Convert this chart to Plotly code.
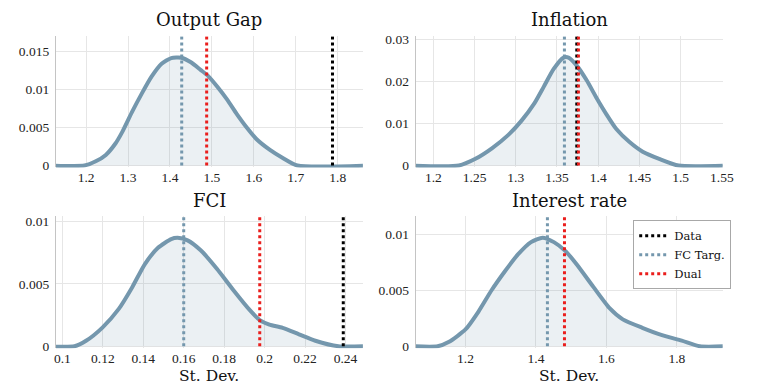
import plotly.graph_objects as go

# ---------------- data ----------------
og_x = [1.12, 1.196, 1.223, 1.247, 1.270, 1.286, 1.309, 1.333, 1.356, 1.380, 1.403, 1.427, 1.450,
        1.473, 1.489, 1.5125, 1.536, 1.559, 1.583, 1.606, 1.6375, 1.669, 1.704, 1.87]
og_y = [0, 0, 0.00056, 0.0014, 0.0029, 0.0044, 0.0070, 0.0095, 0.0117, 0.0134, 0.01415, 0.0142, 0.0136,
        0.0126, 0.0119, 0.0104, 0.0087, 0.0068, 0.0050, 0.0035, 0.0021, 0.0010, 0, 0]

inf_x = [1.17, 1.231, 1.251, 1.271, 1.291, 1.307, 1.3225, 1.334, 1.346, 1.358, 1.364, 1.374, 1.386,
         1.398, 1.410, 1.422, 1.438, 1.454, 1.474, 1.4975, 1.56]
inf_y = [0, 0, 0.0016, 0.0041, 0.0073, 0.0107, 0.0148, 0.0188, 0.0230, 0.0257, 0.0257, 0.0238, 0.0203,
         0.0161, 0.0122, 0.0087, 0.0056, 0.0033, 0.0016, 0, 0]

fci_x = [0.09, 0.106, 0.1117, 0.1198, 0.1279, 0.1344, 0.1408, 0.1473, 0.1538, 0.157, 0.1619, 0.1684,
         0.1765, 0.1846, 0.1927, 0.1976, 0.2024, 0.2089, 0.217, 0.2251, 0.2365, 0.25]
fci_y = [0, 0, 0.00044, 0.0015, 0.0030, 0.0047, 0.0066, 0.0079, 0.0086, 0.0087, 0.0085, 0.0077,
         0.0062, 0.0045, 0.0029, 0.0021, 0.00174, 0.00148, 0.00096, 0.00044, 0, 0]

ir_x = [1.05, 1.121, 1.1535, 1.2, 1.237, 1.274, 1.312, 1.349, 1.386, 1.419, 1.451, 1.484, 1.516,
        1.563, 1.609, 1.6465, 1.702, 1.758, 1.814, 1.865, 1.94]
ir_y = [0, 0, 0.0004, 0.0015, 0.0031, 0.0050, 0.0067, 0.0082, 0.0093, 0.0097, 0.0093, 0.0085, 0.0073,
        0.0053, 0.0034, 0.0024, 0.00165, 0.00099, 0.0005, 0, 0]

panel_titles = ["Output Gap", "Inflation", "FCI", "Interest rate"]
series_names = ["Data", "FC Targ.", "Dual"]
# vertical reference values per panel: Data, FC Targ., Dual (None = not shown)
og_refs = [1.7875, 1.428, 1.4875]
inf_refs = [1.374, 1.359, 1.376]
fci_refs = [0.2389, 0.160, 0.1976]
ir_refs = [None, 1.4326, 1.481]

x_ranges = [[1.128, 1.860], [1.1785, 1.551], [0.0968, 0.2486], [1.0586, 1.930]]
y_ranges = [[-0.000256, 0.01701], [-0.00046, 0.03077], [-0.000156, 0.01047], [-0.000174, 0.01165]]
x_dticks = [0.1, 0.05, 0.02, 0.2]
y_dticks = [0.005, 0.01, 0.005, 0.005]
x_label = "St. Dev."

# ---------------- styling ----------------
OFF_X, OFF_Y = 0, 8          # page offset of the plot div
W, H = 763, 388 - OFF_Y
curve_col = "rgb(116,151,173)"
fill_col = "rgba(116,151,173,0.14)"
ref_cols = ["black", "rgb(116,151,173)", "rgb(234,30,28)"]
tick_font = dict(family="Liberation Serif", size=13.5, color="#222")
title_font = dict(family="DejaVu Serif", size=18, color="#111")


def px_x(p):
    return (p - OFF_X) / W


def px_y(p):
    return 1 - (p - OFF_Y) / H


x_domains = [[px_x(46.7), px_x(359)], [px_x(412.7), px_x(725)],
             [px_x(46.7), px_x(359)], [px_x(412.7), px_x(725)]]
y_domains = [[px_y(167.7), px_y(33)], [px_y(167.7), px_y(33)],
             [px_y(353.3), px_y(217.3)], [px_y(353.3), px_y(217.3)]]

fig = go.Figure()

curves = [(og_x, og_y), (inf_x, inf_y), (fci_x, fci_y), (ir_x, ir_y)]
refs = [og_refs, inf_refs, fci_refs, ir_refs]

for i, (cx, cy) in enumerate(curves):
    xa = "x" if i == 0 else f"x{i+1}"
    ya = "y" if i == 0 else f"y{i+1}"
    fig.add_trace(go.Scatter(x=cx, y=cy, xaxis=xa, yaxis=ya, mode="lines",
                             line=dict(color=curve_col, width=4, shape="spline", smoothing=0.6),
                             fill="tozeroy", fillcolor=fill_col, showlegend=False,
                             hoverinfo="skip"))

for i in range(4):
    xa = "x" if i == 0 else f"x{i+1}"
    ya = "y" if i == 0 else f"y{i+1}"
    top = y_ranges[i][1]
    for j, v in enumerate(refs[i]):
        if v is None:
            continue
        fig.add_trace(go.Scatter(x=[v, v], y=[0, top], xaxis=xa, yaxis=ya, mode="lines",
                                 line=dict(color=ref_cols[j], width=3, dash="dot"),
                                 name=series_names[j], showlegend=(i == 0),
                                 hoverinfo="skip"))

layout = dict(
    width=W, height=H,
    margin=dict(l=0, r=0, t=0, b=0),
    paper_bgcolor="white", plot_bgcolor="white",
    font=tick_font,
    legend=dict(x=px_x(634), y=px_y(222), xanchor="left", yanchor="top",
                bgcolor="white", bordercolor="#A8A8A8", borderwidth=1,
                font=dict(family="DejaVu Serif", size=11.5, color="#111"),
                tracegroupgap=0, itemwidth=30),
)

for i in range(4):
    sx = "" if i == 0 else str(i + 1)
    layout["xaxis" + sx] = dict(
        domain=x_domains[i], anchor="y" + sx, range=x_ranges[i], dtick=x_dticks[i],
        tick0=0, showgrid=True, gridcolor="#E6E6E6", gridwidth=1, zeroline=False,
        showline=False, ticks="", tickfont=tick_font)
    layout["yaxis" + sx] = dict(
        domain=y_domains[i], anchor="x" + sx, range=y_ranges[i], dtick=y_dticks[i],
        tick0=0, showgrid=True, gridcolor="#E6E6E6", gridwidth=1, zeroline=False,
        showline=True, linecolor="#C4C4C4", linewidth=1,
        ticks="outside", ticklen=3, tickcolor="rgba(0,0,0,0)", tickfont=tick_font)

anns = []
title_pos = [(202.7, 15.5), (569, 15.5), (202.7, 202), (569, 202)]
for t, (cx, cy) in zip(panel_titles, title_pos):
    anns.append(dict(text=t, x=px_x(cx), y=px_y(cy), xref="paper", yref="paper",
                     xanchor="center", yanchor="middle", showarrow=False, font=title_font))
for cx in (202.7, 569):
    anns.append(dict(text=x_label, x=px_x(cx), y=px_y(381.5), xref="paper", yref="paper",
                     xanchor="center", yanchor="middle", showarrow=False,
                     font=dict(family="DejaVu Serif", size=15.5, color="#111")))
layout["annotations"] = anns

fig.update_layout(**layout)
fig.write_html("out.html")
